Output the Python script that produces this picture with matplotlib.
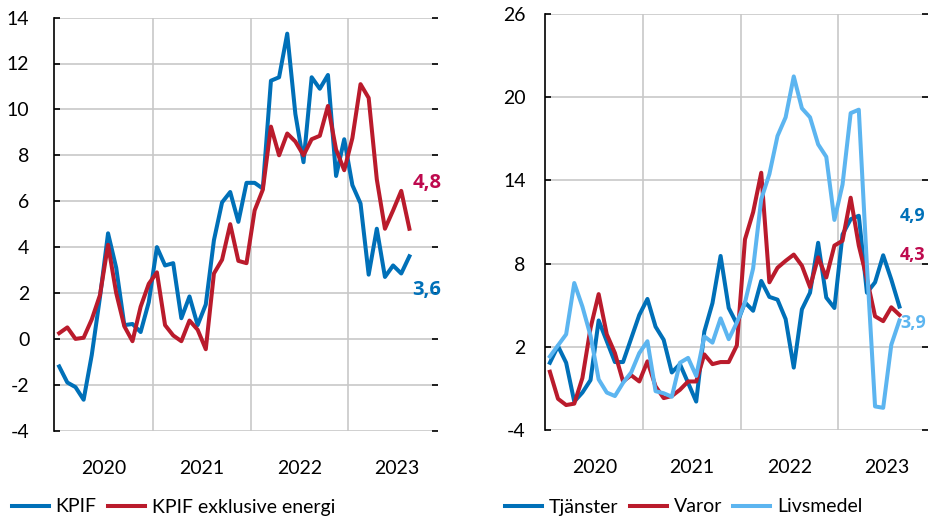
import numpy as np
import matplotlib
matplotlib.use("Agg")
import matplotlib.pyplot as plt

plt.rcParams['font.family'] = ['Lato', 'DejaVu Sans']

# monthly data, Jan 2020 onwards
years = ['2020', '2021', '2022', '2023']

kpif = [-1.2, -1.9, -2.1, -2.65, -0.7, 1.8, 4.6, 3.1, 0.6, 0.65, 0.3, 1.6,
        4.0, 3.2, 3.3, 0.9, 1.85, 0.6, 1.5, 4.3, 5.95, 6.4, 5.1, 6.8,
        6.8, 6.55, 11.25, 11.4, 13.3, 9.8, 7.7, 11.4, 10.9, 11.5, 7.1, 8.7,
        6.7, 5.9, 2.8, 4.8, 2.7, 3.2, 2.85, 3.6]
kpif_ex = [0.25, 0.5, 0.0, 0.05, 0.85, 1.9, 4.1, 2.0, 0.55, -0.1, 1.4, 2.4,
           2.9, 0.6, 0.15, -0.1, 0.8, 0.4, -0.45, 2.85, 3.45, 5.0, 3.4, 3.3,
           5.6, 6.5, 9.25, 8.0, 8.95, 8.6, 8.0, 8.7, 8.85, 10.15, 8.25, 7.35,
           8.75, 11.1, 10.5, 6.95, 4.8, 5.6, 6.45, 4.8]

tjanster = [0.85, 2.05, 0.85, -1.95, -1.3, -0.4, 3.9, 2.4, 0.9, 0.9, 2.6, 4.3,
            5.45, 3.45, 2.5, 0.15, 0.75, -0.6, -1.95, 3.1, 5.15, 8.55, 4.8, 3.65,
            5.2, 4.6, 6.75, 5.6, 5.4, 4.0, 0.5, 4.7, 5.9, 9.5, 5.55, 4.8,
            10.1, 11.2, 11.45, 5.9, 6.65, 8.6, 6.85, 4.9]
varor = [0.2, -1.75, -2.2, -2.1, -0.25, 3.35, 5.8, 2.9, 1.55, -0.5, -0.05, -0.5,
         0.95, -0.85, -1.7, -1.55, -1.1, -0.5, -0.5, 1.45, 0.75, 0.9, 0.9, 2.1,
         9.75, 11.7, 14.55, 6.65, 7.7, 8.2, 8.65, 7.85, 6.3, 8.45, 7.0, 9.3,
         9.65, 12.75, 9.3, 6.9, 4.2, 3.85, 4.85, 4.3]
livsmedel = [1.3, 2.1, 2.9, 6.6, 4.9, 2.8, -0.35, -1.3, -1.55, -0.6, 0.15, 1.55,
             2.4, -1.2, -1.35, -1.6, 0.85, 1.2, -0.1, 2.75, 2.3, 4.05, 2.55, 3.75,
             5.2, 7.65, 12.65, 14.45, 17.2, 18.55, 21.5, 19.2, 18.55, 16.6, 15.7, 11.15,
             13.7, 18.85, 19.1, 7.85, -2.3, -2.4, 2.15, 3.9]

blue = '#0070B8'
red = '#BA1B2C'
light = '#5CB5F0'
lab_red = '#BE0A4E'

x = np.arange(len(kpif))

fig = plt.figure(figsize=(9.29, 5.22), dpi=100)
W, H = 929.0, 522.0
ax1 = fig.add_axes([54.3 / W, 1 - 430.7 / H, 384 / W, (430.7 - 17.6) / H])
ax2 = fig.add_axes([545 / W, 1 - 430 / H, 383.3 / W, (430 - 14) / H])


def style(ax, lo, hi, step, pad):
    ax.set_xlim(-0.6, 46.55)
    ax.set_ylim(lo, hi)
    ax.set_yticks(np.arange(lo, hi + 0.1, step))
    ax.set_xticks([11.5, 23.5, 35.5])
    ax.set_xticks([5.5, 17.5, 29.5, 41.5], minor=True)
    ax.set_xticklabels([], minor=False)
    ax.set_xticklabels(years, minor=True)
    ax.grid(True, which='major', color='#C8C8C8', lw=1.2)
    ax.set_axisbelow(True)
    for s in ['top', 'right', 'bottom']:
        ax.spines[s].set_visible(False)
    ax.spines['left'].set_color('black')
    ax.spines['left'].set_linewidth(1.2)
    ax.tick_params(axis='x', which='both', length=0, labelsize=14, pad=21, colors='black')
    ax.tick_params(axis='y', labelsize=14, direction='in', length=4, width=1.2,
                   pad=pad, right=True, colors='black')
    ax.yaxis.set_major_formatter(plt.FuncFormatter(lambda v, p: '%d' % v))


style(ax1, -4, 14, 2, 18)
style(ax2, -4, 26, 6, 14)

lw = 2.9
ax1.plot(x, kpif, color=blue, lw=lw, label='KPIF')
ax1.plot(x, kpif_ex, color=red, lw=lw, label='KPIF exklusive energi')

ax2.plot(x, tjanster, color=blue, lw=lw, label='Tjänster')
ax2.plot(x, varor, color=red, lw=lw, label='Varor')
ax2.plot(x, livsmedel, color=light, lw=lw, label='Livsmedel')


def end_label(ax, vals, color, dy, dx=2, size=14.5):
    ax.annotate(('%.1f' % vals[-1]).replace('.', ','), xy=(x[-1], vals[-1]),
                xytext=(dx, dy), textcoords='offset points', color=color,
                fontsize=size, fontweight='bold', ha='left', va='center',
                family=['Open Sans', 'DejaVu Sans'], annotation_clip=False)


end_label(ax1, kpif_ex, lab_red, 33)
end_label(ax1, kpif, blue, -24)
end_label(ax2, tjanster, blue, 65, dx=0.5, size=13)
end_label(ax2, varor, lab_red, 43, dx=0.5, size=13)
end_label(ax2, livsmedel, light, -2, dx=0.5, size=13)

leg_kw = dict(frameon=False, ncol=3, fontsize=14, handlelength=1.9,
              handletextpad=0.35, columnspacing=0.6, borderaxespad=0,
              loc='center left')
ax1.legend(bbox_to_anchor=(4 / W, 1 - 507 / H), bbox_transform=fig.transFigure, **leg_kw)
ax2.legend(bbox_to_anchor=(497 / W, 1 - 507 / H), bbox_transform=fig.transFigure, **leg_kw)

fig.savefig('out.png', dpi=100)
